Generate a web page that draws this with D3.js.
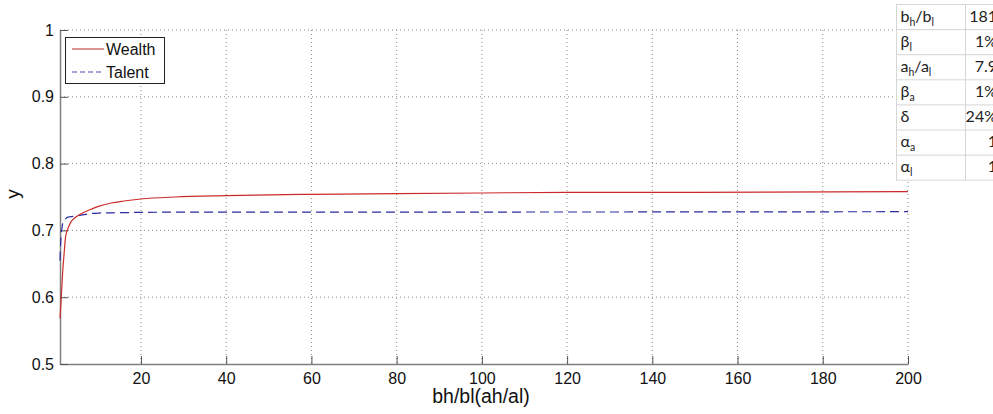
<!DOCTYPE html>
<html>
<head>
<meta charset="utf-8">
<script src="https://d3js.org/d3.v7.min.js"></script>
<style>
  body { margin: 0; background: #fff; overflow: hidden; }
  text { font-family: "Liberation Sans", Arial, sans-serif; }
</style>
</head>
<body>
<script>
// Values
let wealthX = [1, 1.3, 1.6, 2, 2.3, 3, 3.5, 4.5, 6, 8, 10, 13, 16, 20, 28, 40, 60, 80, 100, 120, 150, 200];
let wealthY = [0.568, 0.6, 0.635, 0.668, 0.69, 0.705, 0.712, 0.719, 0.725, 0.731, 0.736, 0.741, 0.744, 0.747, 0.75, 0.752, 0.754, 0.755, 0.756, 0.757, 0.757, 0.758];

let talentX = [1, 1.15, 1.3, 1.5, 1.7, 2, 2.6, 3, 4, 6, 8, 10, 15, 20, 40, 100, 200];
let talentY = [0.655, 0.68, 0.695, 0.705, 0.712, 0.715, 0.719, 0.72, 0.721, 0.723, 0.725, 0.726, 0.7265, 0.727, 0.7275, 0.7275, 0.728];

let xTicks = [20, 40, 60, 80, 100, 120, 140, 160, 180, 200];
let yTicks = [0.5, 0.6, 0.7, 0.8, 0.9, 1];

let seriesNames = ["Wealth", "Talent"];

let tableLabels = [["b", "h", "/b", "l"], ["β", "l"], ["a", "h", "/a", "l"], ["β", "a"], ["δ"], ["α", "a"], ["α", "l"]];
let tableValues = ["181", "1%", "7.9", "1%", "24%", "1", "1"];

const W = 993, H = 414;
const mLeft = 60, mRight = 908, mTop = 30, mBottom = 364;

let svg = d3.select("body").append("svg")
    .attr("width", W)
    .attr("height", H);

let x = d3.scaleLinear().domain([1, 200]).range([mLeft, mRight]);
let y = d3.scaleLinear().domain([0.5, 1]).range([mBottom, mTop]);

// grid
let grid = svg.append("g");
grid.selectAll(".vg").data(xTicks).enter().append("line")
    .attr("x1", d => x(d)).attr("x2", d => x(d))
    .attr("y1", mTop).attr("y2", mBottom)
    .attr("stroke", "#8a8a8a").attr("stroke-width", 1)
    .attr("stroke-dasharray", "1,3");
grid.selectAll(".hg").data(yTicks.filter(d => d > 0.5)).enter().append("line")
    .attr("x1", mLeft).attr("x2", mRight)
    .attr("y1", d => y(d)).attr("y2", d => y(d))
    .attr("stroke", "#8a8a8a").attr("stroke-width", 1)
    .attr("stroke-dasharray", "1,3");

// axes (ticks pointing inward like matlab)
let xAxis = svg.append("g")
    .attr("transform", `translate(0,${mBottom})`)
    .call(d3.axisBottom(x).tickValues(xTicks).tickSizeInner(-8).tickSizeOuter(0).tickPadding(9));
let yAxis = svg.append("g")
    .attr("transform", `translate(${mLeft},0)`)
    .call(d3.axisLeft(y).tickValues(yTicks).tickFormat(d3.format("~g")).tickSizeInner(-8).tickSizeOuter(0).tickPadding(6));

[xAxis, yAxis].forEach(a => {
    a.select(".domain").attr("stroke", "#7f7f7f").attr("stroke-width", 1.5);
    a.selectAll(".tick line").attr("stroke", "#555");
    a.selectAll("text")
        .attr("fill", "#111")
        .style("font-size", "16px")
        .style("font-family", "Liberation Sans, Arial, sans-serif");
});

// axis labels
svg.append("text")
    .attr("x", 481).attr("y", 403)
    .attr("text-anchor", "middle")
    .style("font-size", "19.5px")
    .attr("fill", "#111")
    .text("bh/bl(ah/al)");
svg.append("text")
    .attr("transform", "translate(19,194) rotate(-90)")
    .attr("text-anchor", "middle")
    .style("font-size", "19px")
    .attr("fill", "#111")
    .text("y");

// curves
let line = d3.line()
    .x(d => x(d[0]))
    .y(d => y(d[1]))
    .curve(d3.curveMonotoneX);

svg.append("path")
    .datum(talentX.map((v, i) => [v, talentY[i]]))
    .attr("d", line)
    .attr("fill", "none")
    .attr("stroke", "#2a2aa0")
    .attr("stroke-width", 1.2)
    .attr("stroke-dasharray", "9,5");

svg.append("path")
    .datum(wealthX.map((v, i) => [v, wealthY[i]]))
    .attr("d", line)
    .attr("fill", "none")
    .attr("stroke", "#cc2a2a")
    .attr("stroke-width", 1.2);

// legend
let legend = svg.append("g");
legend.append("rect")
    .attr("x", 65.5).attr("y", 37.5)
    .attr("width", 99).attr("height", 46)
    .attr("fill", "#fff")
    .attr("stroke", "#222").attr("stroke-width", 1);
let legendStyles = [{ color: "#cc4a4a", dash: null }, { color: "#4a4aa8", dash: "5,3" }];
seriesNames.forEach((name, i) => {
    let ly = 49 + i * 23;
    legend.append("line")
        .attr("x1", 72).attr("x2", 104)
        .attr("y1", ly).attr("y2", ly)
        .attr("stroke", legendStyles[i].color)
        .attr("stroke-width", 1.2)
        .attr("stroke-dasharray", legendStyles[i].dash);
    legend.append("text")
        .attr("x", 106).attr("y", ly + 6)
        .style("font-size", "16px")
        .attr("fill", "#111")
        .text(name);
});

// parameter table in the top right corner (clipped by the window edge, as in the original)
let table = svg.append("g");
let tLeft = 896.5, tMid = 965.5, tTop = 4.5, rowH = 25.1;
table.append("rect")
    .attr("x", tLeft).attr("y", tTop)
    .attr("width", 120).attr("height", rowH * tableLabels.length)
    .attr("fill", "#fff")
    .attr("stroke", "#d6d6d6");
tableLabels.forEach((lab, i) => {
    let ry = tTop + i * rowH;
    if (i > 0) {
        table.append("line")
            .attr("x1", tLeft).attr("x2", W)
            .attr("y1", ry).attr("y2", ry)
            .attr("stroke", "#d6d6d6");
    }
    let t = table.append("text")
        .attr("x", tLeft + 4).attr("y", ry + 17)
        .attr("fill", "#222")
        .style("font-family", "Lato, 'Open Sans', sans-serif")
        .style("font-size", "16px");
    lab.forEach((part, j) => {
        let ts = t.append("tspan").text(part);
        if (j % 2 === 1) {
            ts.attr("dy", 4).style("font-size", "10.5px");
        } else if (j > 0) {
            ts.attr("dy", -4);
        }
    });
    table.append("text")
        .attr("x", 997).attr("y", ry + 17)
        .attr("text-anchor", "end")
        .attr("fill", "#222")
        .style("font-family", "Lato, 'Open Sans', sans-serif")
        .style("font-size", "16px")
        .text(tableValues[i]);
});
table.append("line")
    .attr("x1", tMid).attr("x2", tMid)
    .attr("y1", tTop).attr("y2", tTop + rowH * tableLabels.length)
    .attr("stroke", "#d6d6d6");
</script>
</body>
</html>
